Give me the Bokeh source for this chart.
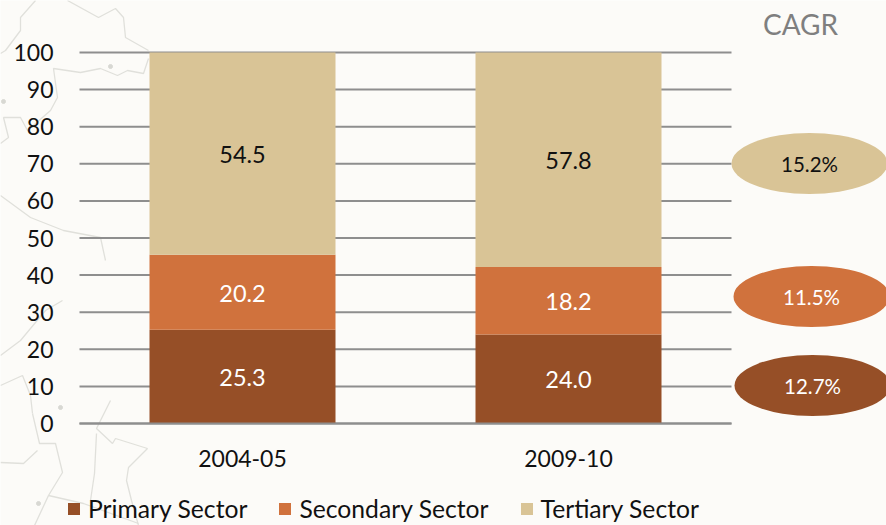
from bokeh.plotting import figure
from bokeh.models import ColumnDataSource, Range1d, LinearAxis, FixedTicker, Legend, LegendItem
from bokeh.core.properties import value
from bokeh.embed import file_html
from bokeh.resources import INLINE

categories = ["2004-05", "2009-10"]
primary = [25.3, 24.0]
secondary = [20.2, 18.2]
tertiary = [54.5, 57.8]
y_ticks = [0, 10, 20, 30, 40, 50, 60, 70, 80, 90, 100]
cagr_labels = ["12.7%", "11.5%", "15.2%"]
sector_names = ["Primary Sector", "Secondary Sector", "Tertiary Sector"]
sector_colors = ["#964F27", "#D0723D", "#D9C496"]
cagr_text_colors = ["#FFFFFF", "#FFFFFF", "#111111"]

# decorative map outline behind the chart, in page pixels
map_paths_x = [
    [35, 20, 20, 5, 0], [67, 98, 115, 123, 125, 148],
    [148, 143, 127, 117, 100, 80, 53, 57, 50, 27, 20, 3, 8, 0],
    [0, 30, 63, 100, 105], [110, 96, 112, 115, 147, 128, 126, 131, 138],
    [32, 39, 55, 62, 48, 83, 138], [0, 23, 37], [96, 94, 90], [48, 34],
    [0, 20, 45, 62], [0, 22, 30, 32],
]
map_paths_y = [
    [0, 17, 30, 50, 53], [0, 17, 8, 17, 37, 50],
    [58, 73, 70, 75, 68, 72, 68, 97, 110, 130, 117, 117, 137, 143],
    [195, 217, 230, 237, 260], [400, 428, 443, 438, 448, 467, 480, 500, 525],
    [413, 443, 443, 472, 495, 503, 523], [462, 463, 450], [433, 473, 500], [495, 525],
    [355, 340, 310, 300], [385, 375, 395, 413],
]
map_dots_x = [110, 3, 60, 38]
map_dots_y = [66, 101, 407, 503]

PAGE_BG = "#FCFBF8"
W, H = 886, 525
p = figure(width=W, height=H, output_backend="svg", toolbar_location=None,
           x_range=Range1d((0 - 242) / 326, (W - 242) / 326),
           y_range=Range1d((423 - H) / 3.71, (423 - 0) / 3.71),
           x_axis_type=None, y_axis_type=None, min_border=0,
           background_fill_color=PAGE_BG, border_fill_color=PAGE_BG, outline_line_color=None)
p.grid.visible = False
p.extra_x_ranges["px"] = Range1d(0, W)
p.extra_y_ranges["px"] = Range1d(H, 0)

p.multi_line(map_paths_x, map_paths_y, x_range_name="px", y_range_name="px",
             line_color="#E0E0DB", line_width=1.3, level="underlay")
p.scatter(map_dots_x, map_dots_y, x_range_name="px", y_range_name="px", size=4,
          color="#D8D8D3", level="underlay")

xs = list(range(len(categories)))
left_edge, right_edge = -0.5, 1.5
p.segment(x0=[left_edge] * len(y_ticks), x1=[right_edge] * len(y_ticks), y0=y_ticks, y1=y_ticks,
          line_color="#8E8E8E", line_width=2)

src = ColumnDataSource(dict(x=xs, Primary=primary, Secondary=secondary, Tertiary=tertiary))
bars = p.vbar_stack(["Primary", "Secondary", "Tertiary"], x="x", width=186 / 326, source=src,
                    color=sector_colors, line_color=None)

font = "Lato"
mid1 = [a / 2 for a in primary]
mid2 = [a + b / 2 for a, b in zip(primary, secondary)]
mid3 = [a + b + c / 2 for a, b, c in zip(primary, secondary, tertiary)]
for vals, mids, col in [(primary, mid1, "#FFFFFF"), (secondary, mid2, "#FFFFFF"), (tertiary, mid3, "#111111")]:
    p.text(xs, mids, text=[f"{v:.1f}" for v in vals], text_color=col, text_font=value(font),
           text_font_size="23.5px", text_align="center", text_baseline="middle", y_offset=1)

yax = LinearAxis(fixed_location=left_edge, ticker=FixedTicker(ticks=y_ticks))
yax.axis_line_color = None
yax.major_tick_line_color = None
yax.minor_tick_line_color = None
yax.major_label_standoff = 20
yax.major_label_text_font = font
yax.major_label_text_font_size = "23px"
yax.major_label_text_color = "#111111"
p.add_layout(yax, "left")

xax = LinearAxis(fixed_location=0, ticker=FixedTicker(ticks=xs),
                 major_label_overrides={i: c for i, c in enumerate(categories)})
xax.bounds = (left_edge, right_edge)
xax.axis_line_color = "#8E8E8E"
xax.axis_line_width = 2
xax.major_tick_line_color = None
xax.minor_tick_line_color = None
xax.major_label_standoff = 20
xax.major_label_text_font = font
xax.major_label_text_font_size = "23px"
xax.major_label_text_color = "#111111"
p.add_layout(xax, "below")

# CAGR ovals
oval_x = [812, 811, 809]
oval_y = [385, 296, 163]
p.ellipse(oval_x, oval_y, width=156, height=61, width_units="screen", height_units="screen",
          x_range_name="px", y_range_name="px",
          color=sector_colors, line_color=None)
p.text(oval_x, oval_y, text=cagr_labels, x_range_name="px", y_range_name="px",
       text_color=cagr_text_colors, text_font=value(font), text_font_size="20.5px",
       text_align="center", text_baseline="middle", y_offset=0)
p.text([800], [23], text=["CAGR"], x_range_name="px", y_range_name="px",
       text_color="#7F7F7F", text_font=value(font), text_font_size="28px",
       text_align="center", text_baseline="middle")

legend = Legend(items=[LegendItem(label=n, renderers=[r]) for n, r in zip(sector_names, bars)],
                orientation="horizontal", location=(66, 2), margin=0, padding=0, spacing=30,
                glyph_width=15, glyph_height=15, label_standoff=7,
                label_text_font=font, label_text_font_size="24.7px", label_text_color="#111111",
                background_fill_alpha=0, border_line_color=None)
p.add_layout(legend)

html = file_html(p, INLINE)
html = html.replace("<body>", f'<body style="background:{PAGE_BG}">', 1)
open("out.html", "w").write(html)
